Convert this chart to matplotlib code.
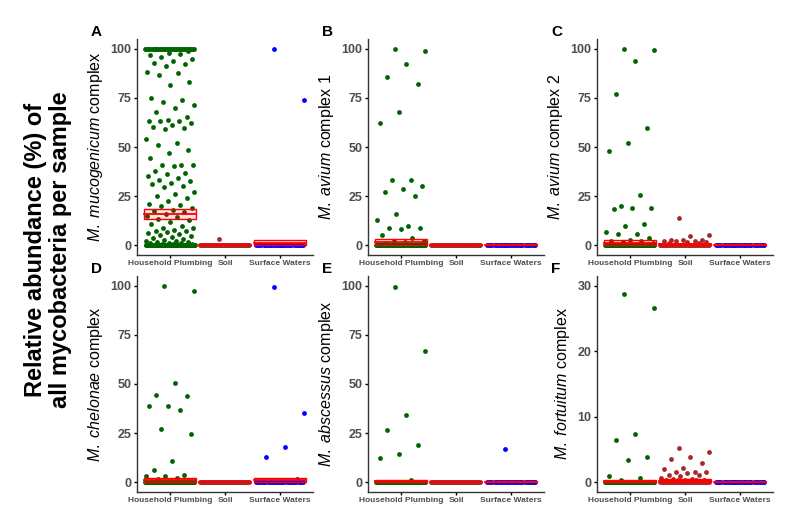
import numpy as np
import matplotlib.pyplot as plt

plt.rcParams["font.family"] = ["Liberation Sans", "DejaVu Sans"]
plt.rcParams["mathtext.fontset"] = "custom"
plt.rcParams["mathtext.it"] = "Liberation Sans:italic"
plt.rcParams["mathtext.rm"] = "Liberation Sans"

categories = ["Household Plumbing", "Soil", "Surface Waters"]
point_colors = ["#006400", "#A52A2A", "#0000FF"]

# A  M. mucogenicum complex
mucog_plumbing = [100] * 38 + [
    99, 98, 97, 97.5, 96, 95, 94, 93, 92.5, 91, 88, 87.5, 86.5, 83, 81.5, 74.8, 74, 73,
    71.4, 69.7, 68, 65.5, 64, 63, 63, 63, 62, 61, 60, 59.7, 59, 54, 52, 51, 48.7, 47,
    44.5, 41, 41, 41, 40.5, 37.8, 37, 36, 35, 34, 33, 32.8, 31.5, 31, 30, 29.4, 27, 26,
    25, 24, 22.7, 21, 20.7, 20, 19, 18, 17.6, 17, 16, 15, 14.3, 13.5, 12.6, 12, 11, 10,
    9, 8.5, 7.5, 7, 7, 6.5, 6, 5.5, 5, 4.5, 4, 3.5, 3, 2.5, 2, 2, 1.6, 1.5, 1.2, 1, 1,
    0.8, 0.5, 0.5] + [0] * 110
mucog_soil = [3] + [0] * 50
mucog_surface = [100, 74] + [0] * 30
mucog_mean = [15.8, 0.1, 1.2]
mucog_lo = [13.1, 0.0, 0.0]
mucog_hi = [18.5, 0.3, 2.5]

# B  M. avium complex 1
avium1_plumbing = [100, 99, 92.4, 85.7, 82, 68, 62, 33, 33, 30, 28.6, 27, 25, 16, 13,
                   9.7, 9, 9, 8, 5, 3.7, 2, 2, 1.5, 1] + [0] * 110
avium1_soil = [0] * 50
avium1_surface = [0] * 30
avium1_mean = [1.5, 0.1, 0.1]
avium1_lo = [0.3, 0.0, 0.0]
avium1_hi = [2.9, 0.3, 0.4]

# C  M. avium complex 2
avium2_plumbing = [100, 99.5, 94, 77, 59.5, 52, 48, 25.5, 20, 19, 19, 18.5, 11, 10,
                   6.5, 5.5, 5.5, 3.5, 2.8, 2, 2, 1.5, 1] + [0] * 110
avium2_soil = [14, 5, 4.5, 2.5, 2.5, 2.5, 2, 2, 2, 1.5, 1.5, 1, 1] + [0] * 45
avium2_surface = [0] * 30
avium2_mean = [1.2, 0.4, 0.1]
avium2_lo = [0.2, 0.0, 0.0]
avium2_hi = [2.5, 0.8, 0.4]

# D  M. chelonae complex
chelon_plumbing = [100, 97.5, 50.5, 44.5, 44, 39, 39, 37, 27, 24.5, 11, 6.3, 3.9, 3.4,
                   3.4, 2, 1.5] + [0] * 110
chelon_soil = [0] * 50
chelon_surface = [99.5, 35, 17.7, 12.6, 1.5] + [0] * 30
chelon_mean = [1.0, 0.05, 1.0]
chelon_lo = [0.0, 0.0, 0.0]
chelon_hi = [2.0, 0.2, 2.2]

# E  M. abscessus complex
absc_plumbing = [99.3, 67, 34, 26.5, 19, 14.5, 12.4, 1] + [0] * 110
absc_soil = [0] * 50
absc_surface = [17] + [0] * 30
absc_mean = [0.5, 0.05, 0.3]
absc_lo = [0.0, 0.0, 0.0]
absc_hi = [1.0, 0.2, 0.6]

# F  M. fortuitum complex
fort_plumbing = [28.7, 26.6, 7.3, 6.5, 3.8, 3.4, 0.9, 0.6, 0.3] + [0] * 110
fort_soil = [5.2, 4.6, 3.8, 3.6, 3.0, 2.2, 2.0, 1.5, 1.5, 1.5, 1.4, 1.1, 1.1, 0.9, 0.6,
             0.5, 0.5, 0.4, 0.3, 0.3, 0.3, 0.3, 0.2, 0.2] + [0] * 45
fort_surface = [0] * 30
fort_mean = [0.15, 0.25, 0.05]
fort_lo = [0.0, 0.05, 0.0]
fort_hi = [0.3, 0.45, 0.1]

panels = [
    ("A", "M.\\ mucogenicum", " complex", [mucog_plumbing, mucog_soil, mucog_surface],
     mucog_mean, mucog_lo, mucog_hi, 100),
    ("B", "M.\\ avium", " complex 1", [avium1_plumbing, avium1_soil, avium1_surface],
     avium1_mean, avium1_lo, avium1_hi, 100),
    ("C", "M.\\ avium", " complex 2", [avium2_plumbing, avium2_soil, avium2_surface],
     avium2_mean, avium2_lo, avium2_hi, 100),
    ("D", "M.\\ chelonae", " complex", [chelon_plumbing, chelon_soil, chelon_surface],
     chelon_mean, chelon_lo, chelon_hi, 100),
    ("E", "M.\\ abscessus", " complex", [absc_plumbing, absc_soil, absc_surface],
     absc_mean, absc_lo, absc_hi, 100),
    ("F", "M.\\ fortuitum", " complex", [fort_plumbing, fort_soil, fort_surface],
     fort_mean, fort_lo, fort_hi, 30),
]

fig = plt.figure(figsize=(8, 5.07), dpi=100)
lefts = [137 / 800, 368 / 800, 597 / 800]
bottoms = [1 - 255 / 507, 1 - 492 / 507]
w = 176 / 800
h = 216 / 507
gray = "#4D4D4D"
golden = 0.6180339887


def jitter(n):
    # deterministic spread in [-0.45, 0.45]
    return ((np.arange(n) * golden + 0.37) % 1.0 - 0.5) * 0.9


for k, (letter, ital, rest, groups, means, los, his, ymax) in enumerate(panels):
    r, c = divmod(k, 3)
    ax = fig.add_axes([lefts[c], bottoms[r], w, h])
    for i, vals in enumerate(groups):
        vals = np.array(vals, dtype=float)
        ax.scatter(i + jitter(len(vals)), vals, s=12, color=point_colors[i],
                   linewidths=0, zorder=2)
        ax.add_patch(plt.Rectangle((i - 0.48, los[i]), 0.96, his[i] - los[i],
                                   facecolor="#FF0000", alpha=0.12, edgecolor="none",
                                   zorder=3))
        ax.add_patch(plt.Rectangle((i - 0.48, los[i]), 0.96, his[i] - los[i],
                                   facecolor="none", edgecolor="#FF0000", lw=1.0,
                                   zorder=3))
        ax.plot([i - 0.48, i + 0.48], [means[i], means[i]], color="#FF0000", lw=1.3,
                zorder=3)
    ax.set_xlim(-0.6, 2.6)
    ax.set_ylim(-0.05 * ymax, 1.05 * ymax)
    ax.set_xticks(range(3))
    ax.set_xticklabels(categories, fontsize=6, fontweight="bold", color=gray)
    step = 25 if ymax == 100 else 10
    ax.set_yticks(np.arange(0, ymax + 1, step))
    ax.tick_params(axis="y", labelsize=9, labelcolor=gray, length=2.5, width=1, pad=1.5)
    ax.tick_params(axis="x", length=2.5, width=1, pad=1)
    for lab in ax.get_yticklabels():
        lab.set_fontweight("bold")
    for side in ["top", "right"]:
        ax.spines[side].set_visible(False)
    for side in ["left", "bottom"]:
        ax.spines[side].set_color("#333333")
        ax.spines[side].set_linewidth(1.0)
    ax.set_ylabel("$\\mathit{" + ital + "}$" + rest, fontsize=11.5, labelpad=4)
    fig.text(lefts[c] - 46 / 800, bottoms[r] + h + 7 / 507, letter, fontsize=11,
             fontweight="bold", ha="left", va="center")

fig.text(48 / 800, 0.508, "Relative abundance (%) of\nall mycobacteria per sample",
         rotation=90, fontsize=17, fontweight="bold", ha="center", va="center",
         linespacing=1.1)

fig.savefig("out.png", dpi=100, facecolor="white")
